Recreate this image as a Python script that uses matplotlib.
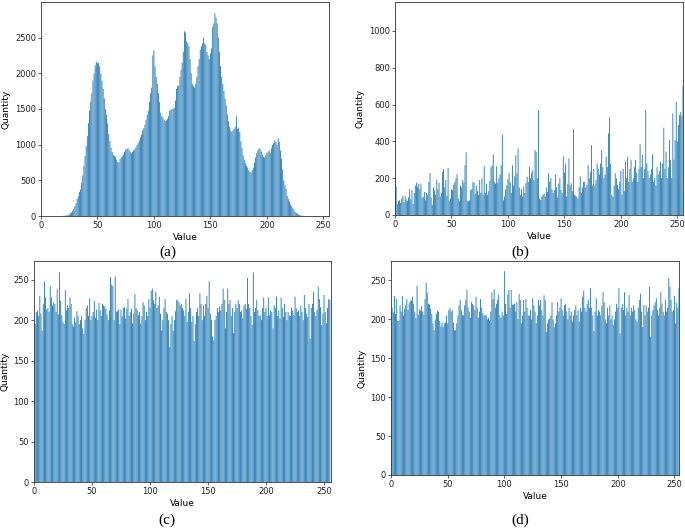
import numpy as np
import matplotlib
matplotlib.use("Agg")
import matplotlib.pyplot as plt

values = np.arange(256)

hist_a = [
    0, 0, 0, 0, 0, 0, 0, 0, 0, 0, 0, 0, 0, 0, 0, 0,
    0, 0, 0, 0, 2, 4, 6, 10, 15, 22, 35, 50, 70, 100, 140, 180,
    240, 280, 340, 370, 470, 570, 700, 840, 980, 1120, 1300, 1480, 1600, 1720, 1900, 2000,
    2110, 2160, 2140, 2150, 2100, 2000, 1900, 1780, 1650, 1500, 1420, 1300, 1150, 1050, 960, 900,
    860, 840, 830, 790, 760, 750, 800, 820, 840, 860, 900, 930, 940, 950, 920, 900,
    880, 900, 920, 930, 960, 990, 1020, 1060, 1100, 1140, 1200, 1230, 1280, 1350, 1420, 1480,
    1600, 1720, 1800, 2250, 2320, 2100, 1950, 1850, 1720, 1600, 1450, 1400, 1380, 1350, 1330, 1340,
    1360, 1400, 1480, 1490, 1500, 1500, 1520, 1620, 1780, 1820, 1830, 1950, 2050, 2150, 2300, 2590,
    2570, 2450, 2420, 2380, 2200, 2000, 1850, 1820, 1800, 1850, 1950, 2100, 2200, 2330, 2380, 2420,
    2500, 2420, 2400, 2300, 2250, 2200, 2280, 2350, 2650, 2700, 2840, 2780, 2700, 2500, 2300, 2100,
    1950, 1850, 1750, 1650, 1550, 1420, 1330, 1250, 1200, 1180, 1200, 1220, 1250, 1400, 1220, 1240,
    1180, 1050, 950, 850, 790, 740, 700, 680, 640, 620, 610, 640, 680, 750, 820, 880,
    920, 950, 940, 900, 860, 830, 820, 850, 880, 900, 920, 880, 950, 1000, 1020, 1060,
    1040, 1000, 1090, 1040, 920, 800, 650, 500, 430, 380, 280, 240, 200, 160, 140, 110,
    90, 60, 45, 35, 20, 12, 8, 5, 2, 1, 0, 0, 0, 0, 0, 0,
    0, 0, 0, 0, 0, 0, 0, 0, 0, 0, 0, 0, 0, 0, 0, 0,
]

hist_b = [
    1100, 155, 60, 75, 80, 65, 90, 105, 70, 100, 85, 75, 95, 140, 85, 135,
    60, 120, 160, 175, 150, 170, 140, 170, 95, 100, 125, 80, 120, 110, 180, 228,
    95, 55, 150, 135, 110, 190, 140, 175, 100, 120, 235, 250, 150, 190, 105, 255,
    75, 90, 140, 135, 165, 180, 200, 222, 90, 75, 160, 150, 190, 175, 270, 340,
    75, 75, 80, 135, 140, 180, 175, 115, 160, 130, 110, 190, 120, 200, 110, 265,
    120, 170, 110, 130, 185, 260, 270, 330, 180, 170, 265, 175, 200, 220, 270, 435,
    80, 100, 140, 160, 195, 226, 180, 120, 270, 160, 210, 325, 225, 362, 150, 110,
    140, 100, 155, 120, 175, 208, 180, 262, 200, 230, 244, 190, 353, 344, 200, 570,
    90, 81, 100, 110, 115, 100, 150, 125, 226, 180, 200, 140, 120, 135, 220, 150,
    95, 170, 200, 136, 120, 317, 230, 280, 100, 170, 308, 160, 172, 130, 465, 110,
    105, 100, 90, 150, 210, 120, 150, 180, 181, 150, 165, 271, 200, 235, 380, 160,
    250, 160, 190, 280, 250, 220, 280, 353, 260, 200, 220, 317, 260, 443, 530, 280,
    108, 100, 160, 226, 200, 163, 140, 180, 240, 110, 250, 130, 290, 200, 317, 180,
    250, 300, 180, 200, 260, 299, 230, 180, 250, 384, 260, 326, 200, 250, 570, 280,
    240, 200, 220, 250, 330, 180, 200, 160, 260, 220, 240, 290, 200, 280, 474, 250,
    344, 200, 260, 407, 300, 200, 552, 300, 407, 615, 400, 489, 543, 560, 540, 700,
]

hist_c = [
    195, 195, 210, 212, 205, 230, 208, 187, 220, 248, 228, 213, 215, 210, 242, 228,
    218, 222, 220, 210, 238, 207, 259, 224, 206, 198, 195, 237, 212, 218, 215, 228,
    220, 195, 192, 203, 197, 211, 205, 195, 200, 205, 190, 183, 200, 215, 218, 205,
    227, 200, 205, 210, 224, 203, 213, 200, 221, 212, 205, 220, 218, 217, 214, 207,
    200, 212, 253, 244, 242, 200, 254, 210, 211, 213, 195, 213, 205, 215, 216, 202,
    214, 226, 205, 210, 214, 196, 208, 232, 215, 212, 206, 210, 196, 205, 222, 218,
    200, 210, 205, 226, 215, 236, 239, 225, 220, 235, 215, 218, 229, 208, 187, 200,
    215, 226, 210, 208, 200, 167, 195, 205, 187, 200, 211, 225, 224, 222, 218, 220,
    215, 212, 205, 226, 198, 210, 233, 215, 198, 205, 174, 195, 210, 215, 205, 233,
    220, 200, 218, 205, 220, 230, 215, 248, 208, 200, 180, 175, 200, 205, 215, 210,
    217, 212, 220, 239, 225, 190, 210, 239, 220, 225, 205, 215, 184, 210, 220, 215,
    225, 220, 210, 212, 202, 218, 220, 214, 252, 220, 215, 205, 194, 259, 210, 215,
    225, 212, 205, 206, 200, 215, 228, 210, 215, 205, 228, 206, 212, 210, 190, 218,
    215, 229, 205, 212, 202, 228, 215, 204, 220, 210, 200, 210, 206, 205, 215, 212,
    206, 229, 215, 210, 212, 205, 218, 210, 200, 231, 215, 208, 204, 220, 177, 215,
    220, 235, 210, 205, 213, 241, 226, 216, 194, 208, 231, 210, 196, 215, 226, 225,
]

hist_d = [
    181, 215, 209, 230, 207, 226, 198, 198, 218, 210, 230, 205, 214, 218, 226, 212,
    221, 224, 224, 229, 220, 210, 202, 243, 206, 213, 211, 217, 210, 206, 226, 247,
    234, 220, 219, 214, 207, 195, 186, 200, 207, 211, 210, 198, 191, 196, 190, 195,
    196, 205, 195, 212, 215, 210, 212, 196, 186, 186, 195, 205, 218, 225, 212, 206,
    205, 218, 225, 238, 215, 210, 202, 222, 220, 218, 212, 229, 215, 202, 210, 226,
    215, 208, 205, 206, 205, 200, 202, 198, 210, 235, 226, 239, 215, 220, 225, 232,
    205, 202, 210, 205, 262, 220, 207, 232, 238, 215, 238, 219, 219, 220, 210, 222,
    200, 233, 225, 195, 205, 225, 210, 226, 215, 205, 205, 212, 200, 227, 218, 210,
    195, 205, 225, 218, 225, 212, 205, 231, 225, 184, 195, 200, 201, 205, 222, 200,
    190, 195, 205, 222, 210, 215, 227, 212, 205, 218, 220, 210, 200, 215, 205, 210,
    197, 205, 212, 218, 205, 212, 197, 215, 210, 229, 237, 215, 210, 220, 225, 215,
    240, 215, 205, 185, 210, 227, 205, 212, 210, 205, 218, 235, 222, 200, 195, 215,
    205, 218, 200, 205, 193, 200, 210, 220, 215, 240, 182, 215, 220, 212, 235, 205,
    215, 210, 231, 205, 215, 210, 218, 212, 200, 197, 215, 225, 233, 210, 190, 218,
    205, 218, 210, 215, 242, 178, 205, 212, 218, 222, 227, 212, 205, 215, 235, 220,
    210, 205, 225, 210, 215, 253, 242, 225, 210, 212, 230, 195, 221, 215, 240, 226,
]

captions = ["(a)", "(b)", "(c)", "(d)"]
x_ticks = [0, 50, 100, 150, 200, 250]
y_ticks_a = [0, 500, 1000, 1500, 2000, 2500]
y_ticks_b = [0, 200, 400, 600, 800, 1000]
y_ticks_cd = [0, 50, 100, 150, 200, 250]

W, H = 685, 528
fig = plt.figure(figsize=(W / 100, H / 100), dpi=100)

def box(l, r, t, b):
    return [l / W, (H - b) / H, (r - l) / W, (b - t) / H]

panels = [
    (box(41, 329, 2, 216), hist_a, (0, 255), (0, 3000), y_ticks_a, (168, 252)),
    (box(395, 683, 2, 215), hist_b, (0, 255), (0, 1157), y_ticks_b, (520, 252)),
    (box(34, 331, 261, 482), hist_c, (0, 256), (0, 273), y_ticks_cd, (167, 520)),
    (box(391, 679, 261, 475), hist_d, (0, 254), (0, 275), y_ticks_cd, (520, 520)),
]

for (rect, hist, xl, yl, yt, cap_xy), cap in zip(panels, captions):
    ax = fig.add_axes(rect)
    ax.bar(values, hist, width=0.75, color="#1f77b4", align="center",
           linewidth=0, snap=False)
    ax.set_xlim(*xl)
    ax.set_ylim(*yl)
    ax.set_xticks(x_ticks)
    ax.set_yticks(yt)
    ax.tick_params(labelsize=6, length=2, width=0.5, pad=1.5, colors="#222222")
    for sp in ax.spines.values():
        sp.set_linewidth(0.6)
        sp.set_color("#333333")
    ax.set_xlabel("Value", fontsize=6.5, labelpad=2)
    ax.set_ylabel("Quantity", fontsize=6.5, labelpad=3)
    fig.text(cap_xy[0] / W, 1 - cap_xy[1] / H, cap, ha="center", va="center",
             fontsize=11, family="Liberation Serif")

fig.savefig("out.png", dpi=100)
